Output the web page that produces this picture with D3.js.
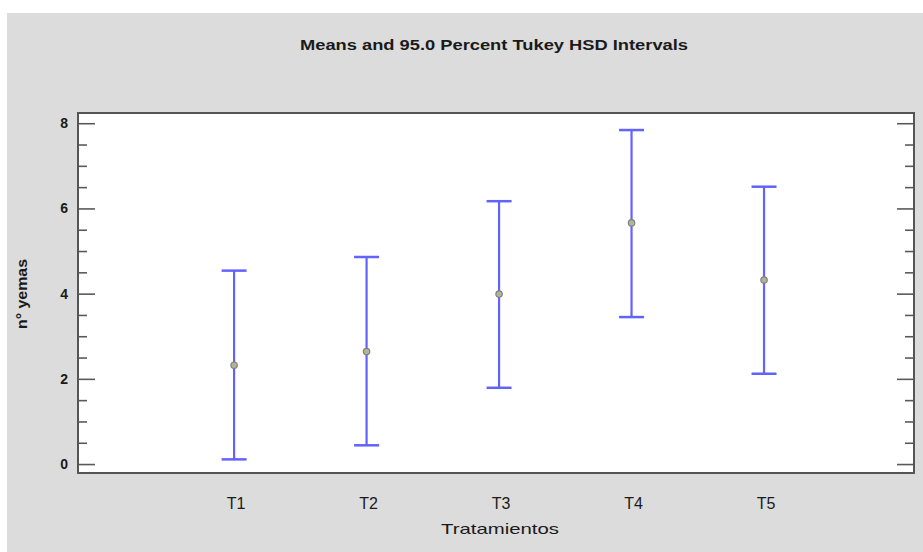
<!DOCTYPE html>
<html>
<head>
<meta charset="utf-8">
<script src="https://cdn.jsdelivr.net/npm/d3@7"></script>
<style>
  body { margin: 0; background: #fff; }
  text { font-family: "Liberation Sans", Arial, sans-serif; fill: #1a1a1a; }
</style>
</head>
<body>
<svg width="923" height="552"></svg>
<script>
// datos
const tratamientos = ["T1", "T2", "T3", "T4", "T5"];
const medias   = [2.32, 2.64, 3.99, 5.66, 4.32];
const inferior = [0.11, 0.44, 1.79, 3.45, 2.12];
const superior = [4.54, 4.86, 6.17, 7.84, 6.51];
const yTicks = [0, 2, 4, 6, 8];

const datos = tratamientos.map((t, i) => ({
    t: t, media: medias[i], lo: inferior[i], hi: superior[i]
}));

const svg = d3.select("svg");

const box = { left: 78, right: 914, top: 113, bottom: 473 };

// panel gris
svg.append("rect")
    .attr("x", 7).attr("y", 13)
    .attr("width", 916).attr("height", 539)
    .attr("fill", "#dcdcdc");

const x = d3.scalePoint()
    .domain(tratamientos)
    .range([box.left, box.right])
    .padding(1.155)
    .align(0.51);

const y = d3.scaleLinear()
    .domain([-0.21, 8.24])
    .range([box.bottom, box.top]);

// area del grafico
svg.append("rect")
    .attr("x", box.left).attr("y", box.top)
    .attr("width", box.right - box.left)
    .attr("height", box.bottom - box.top)
    .attr("fill", "#fff");

// ticks menores y mayores, dentro del marco, a ambos lados
const minor = d3.range(0, 8.01, 0.5).filter(v => v % 2 !== 0);

const ejeIzq = svg.append("g").attr("transform", `translate(${box.left},0)`);
ejeIzq.call(d3.axisRight(y).tickValues(minor).tickSize(9).tickFormat(""));
ejeIzq.append("g").call(d3.axisRight(y).tickValues(yTicks).tickSize(17).tickFormat(""));

const ejeDer = svg.append("g").attr("transform", `translate(${box.right},0)`);
ejeDer.call(d3.axisLeft(y).tickValues(minor).tickSize(9).tickFormat(""));
ejeDer.append("g").call(d3.axisLeft(y).tickValues(yTicks).tickSize(17).tickFormat(""));

svg.selectAll(".domain").remove();
svg.selectAll(".tick line")
    .attr("stroke", "#5a5a5a")
    .attr("stroke-width", 1.6);

// etiquetas eje y
svg.selectAll(".ylab")
    .data(yTicks)
    .enter()
    .append("text")
    .attr("x", 68)
    .attr("y", d => y(d))
    .attr("dy", "0.36em")
    .attr("text-anchor", "end")
    .attr("font-size", 14)
    .attr("font-weight", "bold")
    .text(d => d);

// marco
svg.append("rect")
    .attr("x", box.left).attr("y", box.top)
    .attr("width", box.right - box.left)
    .attr("height", box.bottom - box.top)
    .attr("fill", "none")
    .attr("stroke", "#555")
    .attr("stroke-width", 2);

// intervalos
const azul = "#6262ff";
const cap = 12.5;

const g = svg.selectAll(".int")
    .data(datos)
    .enter()
    .append("g");

g.append("line")
    .attr("x1", d => x(d.t)).attr("x2", d => x(d.t))
    .attr("y1", d => y(d.lo)).attr("y2", d => y(d.hi))
    .attr("stroke", azul).attr("stroke-width", 2.2);

g.append("line")
    .attr("x1", d => x(d.t) - cap).attr("x2", d => x(d.t) + cap)
    .attr("y1", d => y(d.hi)).attr("y2", d => y(d.hi))
    .attr("stroke", azul).attr("stroke-width", 2.5);

g.append("line")
    .attr("x1", d => x(d.t) - cap).attr("x2", d => x(d.t) + cap)
    .attr("y1", d => y(d.lo)).attr("y2", d => y(d.lo))
    .attr("stroke", azul).attr("stroke-width", 2.5);

g.append("circle")
    .attr("cx", d => x(d.t))
    .attr("cy", d => y(d.media))
    .attr("r", 3.2)
    .attr("fill", "#b4b494")
    .attr("stroke", "#808080")
    .attr("stroke-width", 1.2);

// etiquetas eje x
svg.selectAll(".xlab")
    .data(tratamientos)
    .enter()
    .append("text")
    .attr("x", d => x(d) + 2)
    .attr("y", 509)
    .attr("text-anchor", "middle")
    .attr("font-size", 16)
    .text(d => d);

// titulos
svg.append("text")
    .attr("x", 494).attr("y", 50)
    .attr("text-anchor", "middle")
    .attr("font-size", 14)
    .attr("font-weight", "bold")
    .attr("textLength", 388)
    .attr("lengthAdjust", "spacingAndGlyphs")
    .text("Means and 95.0 Percent Tukey HSD Intervals");

svg.append("text")
    .attr("x", 500).attr("y", 534)
    .attr("text-anchor", "middle")
    .attr("font-size", 15)
    .attr("textLength", 118)
    .attr("lengthAdjust", "spacingAndGlyphs")
    .text("Tratamientos");

svg.append("text")
    .attr("transform", "translate(27,294) rotate(-90)")
    .attr("text-anchor", "middle")
    .attr("font-size", 14)
    .attr("font-weight", "bold")
    .attr("textLength", 70)
    .attr("lengthAdjust", "spacingAndGlyphs")
    .text("n° yemas");
</script>
</body>
</html>
